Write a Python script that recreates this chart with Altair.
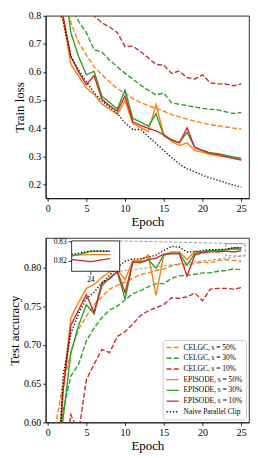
import altair as alt
import pandas as pd

FONT = "Liberation Serif"

epochs = list(range(1, 26))
series_names = ["CELGC, s = 50%", "CELGC, s = 30%", "CELGC, s = 10%",
                "EPISODE, s = 50%", "EPISODE, s = 30%", "EPISODE, s = 10%",
                "Naive Parallel Clip"]
colors = ["#ff7f0e", "#2ca02c", "#d62728", "#ff7f0e", "#2ca02c", "#d62728", "#000000"]
dashes = [[5, 2.2], [5, 2.2], [5, 2.2], [1, 0], [1, 0], [1, 0], [1.2, 2.0]]

# ---- Train loss ----
train_celgc50 = [1.8, 1.0, 0.775, 0.705, 0.66, 0.618, 0.59, 0.565, 0.54, 0.525, 0.505, 0.491, 0.48,
                 0.47, 0.46, 0.448, 0.44, 0.432, 0.425, 0.418, 0.412, 0.408, 0.404, 0.400, 0.397]
train_celgc30 = [2.0, 1.0, 0.83, 0.78, 0.74, 0.679, 0.671, 0.642, 0.618, 0.595, 0.575, 0.553, 0.535,
                 0.518, 0.525, 0.49, 0.485, 0.48, 0.475, 0.47, 0.467, 0.465, 0.458, 0.452, 0.455]
train_celgc10 = [2.5, 1.6, 1.2, 0.95, 0.86, 0.80, 0.775, 0.76, 0.74, 0.69, 0.692, 0.672, 0.65,
                 0.627, 0.624, 0.595, 0.603, 0.58, 0.575, 0.59, 0.561, 0.558, 0.557, 0.551, 0.557]
train_ep50 = [0.89, 0.79, 0.627, 0.585, 0.543, 0.52, 0.486, 0.468, 0.449, 0.497, 0.416, 0.402, 0.388,
              0.484, 0.376, 0.353, 0.338, 0.347, 0.32, 0.314, 0.306, 0.301, 0.298, 0.293, 0.29]
train_ep30 = [1.2, 0.94, 0.74, 0.655, 0.59, 0.602, 0.514, 0.491, 0.468, 0.535, 0.434, 0.422, 0.407,
              0.451, 0.372, 0.358, 0.349, 0.385, 0.332, 0.32, 0.312, 0.309, 0.303, 0.297, 0.292]
train_ep10 = [1.0, 0.80, 0.655, 0.6, 0.555, 0.587, 0.503, 0.48, 0.46, 0.514, 0.422, 0.41, 0.399,
              0.39, 0.376, 0.358, 0.347, 0.401, 0.33, 0.32, 0.31, 0.306, 0.298, 0.292, 0.286]
train_naive = [0.85, 0.78, 0.655, 0.607, 0.566, 0.526, 0.497, 0.475, 0.452, 0.418, 0.395, 0.395, 0.37,
               0.345, 0.32, 0.295, 0.272, 0.255, 0.245, 0.232, 0.222, 0.214, 0.205, 0.197, 0.189]

# ---- Test accuracy ----
test_celgc50 = [0.595, 0.65, 0.69, 0.72, 0.737, 0.752, 0.762, 0.772, 0.777, 0.781, 0.786, 0.791, 0.793,
                0.796, 0.798, 0.802, 0.804, 0.803, 0.805, 0.807, 0.806, 0.809, 0.81, 0.809, 0.808]
test_celgc30 = [0.55, 0.615, 0.66, 0.675, 0.705, 0.722, 0.735, 0.745, 0.75, 0.758, 0.766, 0.77, 0.775,
                0.779, 0.779, 0.786, 0.789, 0.79, 0.791, 0.793, 0.793, 0.795, 0.796, 0.798, 0.797]
test_celgc10 = [0.50, 0.54, 0.61, 0.586, 0.655, 0.675, 0.694, 0.69, 0.711, 0.717, 0.727, 0.738, 0.744,
                0.748, 0.752, 0.761, 0.76, 0.762, 0.767, 0.757, 0.772, 0.773, 0.773, 0.772, 0.774]
test_ep50 = [0.50, 0.645, 0.735, 0.755, 0.773, 0.778, 0.787, 0.794, 0.797, 0.784, 0.809, 0.809, 0.816,
             0.764, 0.816, 0.82, 0.82, 0.81, 0.821, 0.82, 0.822, 0.82, 0.8232, 0.8235, 0.8235]
test_ep30 = [0.45, 0.605, 0.69, 0.725, 0.752, 0.74, 0.776, 0.787, 0.794, 0.759, 0.807, 0.806, 0.81,
             0.799, 0.816, 0.818, 0.818, 0.803, 0.818, 0.82, 0.822, 0.822, 0.8227, 0.8251, 0.8251]
test_ep10 = [0.48, 0.64, 0.725, 0.745, 0.765, 0.742, 0.78, 0.785, 0.795, 0.7675, 0.807, 0.807, 0.81,
             0.812, 0.817, 0.818, 0.818, 0.789, 0.816, 0.819, 0.82, 0.82, 0.821, 0.8199, 0.8215]
test_naive = [0.47, 0.66, 0.715, 0.74, 0.76, 0.768, 0.78, 0.79, 0.80, 0.808, 0.811, 0.811, 0.813,
              0.816, 0.822, 0.827, 0.826, 0.82, 0.82, 0.822, 0.823, 0.823, 0.8236, 0.8254, 0.8254]

train = dict(zip(series_names, [train_celgc50, train_celgc30, train_celgc10,
                                train_ep50, train_ep30, train_ep10, train_naive]))
test = dict(zip(series_names, [test_celgc50, test_celgc30, test_celgc10,
                               test_ep50, test_ep30, test_ep10, test_naive]))

# inset: zoom region (data coords) and where the inset box sits (main-axis coords)
zoom_x = [23.0, 25.5]
zoom_y = [0.815, 0.8305]
inset_x = [3.1, 9.3]
inset_y = [0.795, 0.8342]
inset_yticks = [0.82, 0.83]
inset_xticks = [24]


def to_inset_x(e):
    return inset_x[0] + (e - zoom_x[0]) / (zoom_x[1] - zoom_x[0]) * (inset_x[1] - inset_x[0])


def to_inset_y(v):
    return inset_y[0] + (v - zoom_y[0]) / (zoom_y[1] - zoom_y[0]) * (inset_y[1] - inset_y[0])


def long_df(d):
    rows = []
    for name in series_names:
        for e, v in zip(epochs, d[name]):
            rows.append({"series": name, "epoch": e, "value": v})
    return pd.DataFrame(rows)


train_df = long_df(train)
test_df = long_df(test)

inset_rows = []
for name in series_names[3:]:
    for e, v in zip(epochs, test[name]):
        if zoom_x[0] <= e <= zoom_x[1]:
            inset_rows.append({"series": name, "epoch": to_inset_x(e), "value": to_inset_y(v)})
inset_df = pd.DataFrame(inset_rows)

x_scale = alt.Scale(domain=[-0.25, 26.0], nice=False, zero=False)
color_scale = alt.Scale(domain=series_names, range=colors)
dash_scale = alt.Scale(domain=series_names, range=dashes)
x_axis = alt.Axis(values=[0, 5, 10, 15, 20, 25], format="d", title="Epoch")


def lines(df, y_scale, y_axis, legend, sw=1.4):
    return alt.Chart(df).mark_line(clip=True, strokeWidth=sw).encode(
        x=alt.X("epoch:Q", scale=x_scale, axis=x_axis),
        y=alt.Y("value:Q", scale=y_scale, axis=y_axis),
        color=alt.Color("series:N", scale=color_scale, legend=legend, sort=series_names),
        strokeDash=alt.StrokeDash("series:N", scale=dash_scale, legend=legend, sort=series_names),
    )


legend = alt.Legend(title=None, orient="bottom-right", offset=3, fillColor="white",
                    strokeColor="#cccccc", padding=3, cornerRadius=2, labelFont=FONT,
                    labelFontSize=7.5, labelColor="black", symbolType="stroke",
                    symbolStrokeWidth=1.4, symbolSize=150, rowPadding=1.8, labelOffset=4,
                    labelLimit=200, clipHeight=9)

top_y = alt.Scale(domain=[0.15, 0.8], nice=False, zero=False)
top = lines(train_df, top_y,
            alt.Axis(values=[0.2, 0.3, 0.4, 0.5, 0.6, 0.7, 0.8], format=".1f", title="Train loss"),
            None).properties(width=205, height=184)

bot_y = alt.Scale(domain=[0.60, 0.838], nice=False, zero=False)
main_bottom = lines(test_df, bot_y,
                    alt.Axis(values=[0.60, 0.65, 0.70, 0.75, 0.80], format=".2f", title="Test accuracy"),
                    legend)

conn_df = pd.DataFrame([
    {"epoch": inset_x[1], "value": inset_y[1], "epoch2": zoom_x[1], "value2": zoom_y[1]},
    {"epoch": inset_x[1], "value": inset_y[0], "epoch2": zoom_x[1], "value2": zoom_y[0]},
])
connectors = alt.Chart(conn_df).mark_rule(stroke="#808080", strokeDash=[3, 2], strokeWidth=0.8).encode(
    x="epoch:Q", y="value:Q", x2="epoch2", y2="value2")

zoom_df = pd.DataFrame([{"epoch": zoom_x[0], "epoch2": zoom_x[1], "value": zoom_y[0], "value2": zoom_y[1]}])
zoom_box = alt.Chart(zoom_df).mark_rect(fillOpacity=0, stroke="#808080", strokeDash=[3, 2],
                                        strokeWidth=0.8).encode(
    x="epoch:Q", x2="epoch2", y="value:Q", y2="value2")

inset_box_df = pd.DataFrame([{"epoch": inset_x[0], "epoch2": inset_x[1],
                              "value": inset_y[0], "value2": inset_y[1]}])
inset_bg = alt.Chart(inset_box_df).mark_rect(fill="white", stroke="black", strokeWidth=0.8).encode(
    x="epoch:Q", x2="epoch2", y="value:Q", y2="value2")

inset_lines = alt.Chart(inset_df).mark_line(strokeWidth=1.3).encode(
    x="epoch:Q", y="value:Q",
    color=alt.Color("series:N", scale=color_scale, legend=None),
    strokeDash=alt.StrokeDash("series:N", scale=dash_scale, legend=None),
)

ytick_df = pd.DataFrame([{"epoch": inset_x[0] - 0.4, "epoch2": inset_x[0], "value": to_inset_y(t),
                          "value2": to_inset_y(t), "label": f"{t:.2f}"} for t in inset_yticks])
xtick_df = pd.DataFrame([{"epoch": to_inset_x(t), "epoch2": to_inset_x(t), "value": inset_y[0],
                          "value2": inset_y[0] - 0.0045, "label": str(t)} for t in inset_xticks])
inset_yt = alt.Chart(ytick_df).mark_rule(stroke="black", strokeWidth=0.8).encode(
    x="epoch:Q", x2="epoch2", y="value:Q", y2="value2")
inset_xt = alt.Chart(xtick_df).mark_rule(stroke="black", strokeWidth=0.8).encode(
    x="epoch:Q", x2="epoch2", y="value:Q", y2="value2")
inset_ylab = alt.Chart(ytick_df).mark_text(align="right", baseline="middle", dx=-5, font=FONT,
                                           fontSize=7.5, color="black").encode(
    x="epoch2:Q", y="value:Q", text="label:N")
inset_xlab = alt.Chart(xtick_df).mark_text(align="center", baseline="top", dy=5, font=FONT,
                                           fontSize=7.5, color="black").encode(
    x="epoch:Q", y="value:Q", text="label:N")

bottom = alt.layer(main_bottom, connectors, zoom_box, inset_bg, inset_lines,
                   inset_yt, inset_xt, inset_ylab, inset_xlab).properties(width=205, height=186)

chart = alt.vconcat(top, bottom, spacing=8).resolve_legend(
    color="independent", strokeDash="independent"
).properties(
    padding={"left": 0, "top": 0, "right": 0, "bottom": 0}
).configure_axis(
    labelFont=FONT, titleFont=FONT, labelFontSize=10, titleFontSize=13, titleFontWeight="normal",
    labelColor="black", titleColor="black", domainColor="black", tickColor="black",
    tickSize=3, domainWidth=0.8, tickWidth=0.8, grid=False, labelPadding=2, titlePadding=2
).configure_view(stroke="black", strokeWidth=0.8)

chart.save("out.html", embed_options={"renderer": "svg", "actions": False})
